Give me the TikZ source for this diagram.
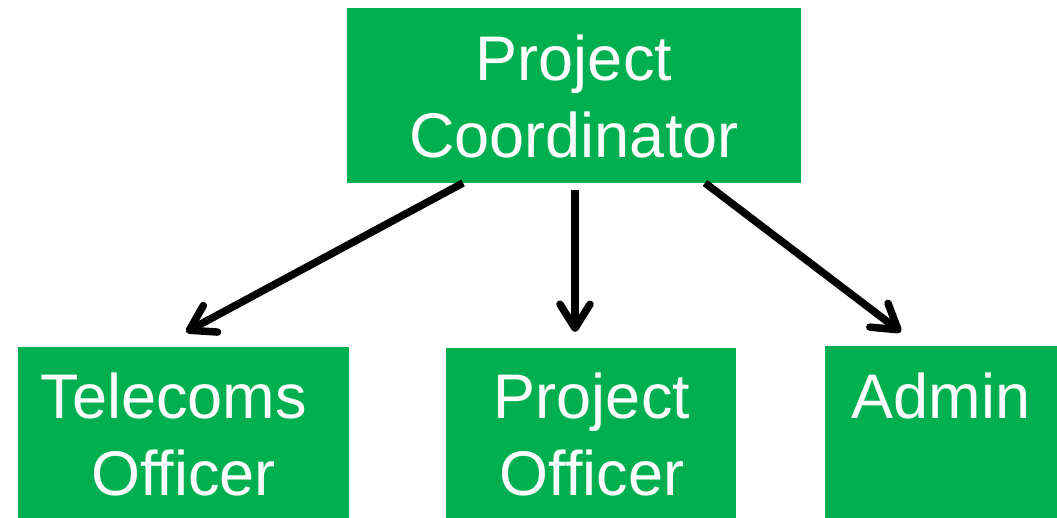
\documentclass[tikz,border=0pt]{standalone}
\usepackage{fontspec}
\setmainfont{Liberation Sans}
\usetikzlibrary{arrows.meta,calc}
\definecolor{boxgreen}{RGB}{0,176,80}
\begin{document}
\begin{tikzpicture}[x=1pt,y=-1pt,
  box/.style={fill=boxgreen, draw=none, inner sep=0pt, outer sep=0pt},
  lbl/.style={text=white, font=\fontsize{63}{77}\selectfont, align=center, inner sep=0pt, anchor=north},
  arr/.style={line width=7.5pt, -{Straight Barb[length=24pt,width=30pt,round]}}]
\useasboundingbox (0,0) rectangle (1057,518);
% boxes
\node[box, minimum width=454pt, minimum height=175pt] (pc) at (574,95.5) {};
\node[box, minimum width=331pt, minimum height=171pt] (tc) at (183.5,432.5) {};
\node[box, minimum width=290pt, minimum height=170pt] (po) at (591,433) {};
\node[box, minimum width=232pt, minimum height=172pt] (ad) at (941,432) {};
% labels
\node[lbl] (pct) at (574,35) {Project\\Coordinator};
\node[lbl] (tct) at (183.5,373) {Telecoms\hspace*{20pt}\\Officer};
\node[lbl] (pot) at (592,373) {Project\\Officer};
\node[lbl] (adt) at (941,373) {Admin};
% connectors
\draw[arr] ($(pc.south)+(-111,0)$) -- ($(tc.north)+(2.5,-15)$);
\draw[arr] ($(pc.south)+(1,7)$) -- ($(po.north)+(-16,-16)$);
\draw[arr] ($(pc.south)+(131,0)$) -- ($(ad.north)+(-40,-14)$);
\end{tikzpicture}
\end{document}
